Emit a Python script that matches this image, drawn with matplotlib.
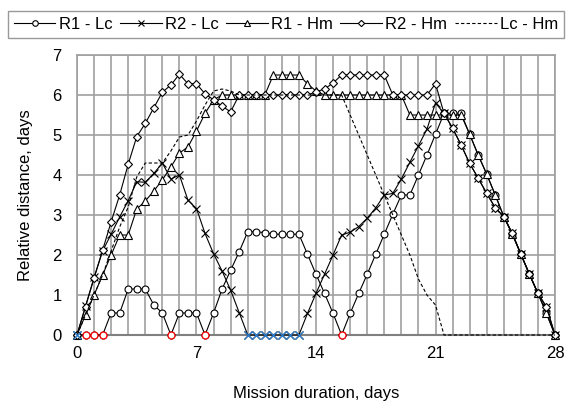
import numpy as np
import matplotlib
matplotlib.use("Agg")
import matplotlib.pyplot as plt
from matplotlib.ticker import MultipleLocator

plt.rcParams["font.family"] = ["Liberation Sans", "DejaVu Sans"]

# half-day sampling over the 28 day mission
days = np.arange(0, 28.5, 0.5)

r1_lc = [0, 0, 0, 0, 0.55, 0.55, 1.15, 1.15, 1.15, 0.75, 0.55, 0, 0.55, 0.55, 0.55,
         0, 0.55, 1.15, 1.62, 2.08, 2.58, 2.58, 2.56, 2.52, 2.52, 2.52, 2.52, 2.02,
         1.52, 1.04, 0.54, 0, 0.54, 1.04, 1.52, 2.02, 2.52, 3.02, 3.5, 3.5, 4.0, 4.5,
         5.02, 5.54, 5.54, 5.54, 5.02, 4.5, 4.02, 3.5, 2.96, 2.52, 2.02, 1.52, 1.04,
         0.54, 0]

r2_lc = [0, 0.72, 1.44, 2.1, 2.52, 2.95, 3.36, 3.83, 3.82, 4.04, 4.3, 3.9, 4.0, 3.37,
         3.16, 2.54, 2.03, 1.6, 1.12, 0.56, 0, 0, 0, 0, 0, 0, 0, 0.54, 1.04, 1.52,
         2.0, 2.5, 2.57, 2.71, 2.92, 3.18, 3.5, 3.54, 3.9, 4.32, 4.73, 5.15, 5.8,
         5.54, 5.17, 4.75, 4.29, 3.92, 3.54, 3.18, 2.96, 2.54, 2.02, 1.52, 1.04,
         0.7, 0]

r1_hm = [0, 0.5, 1.0, 1.5, 2.0, 2.5, 2.5, 3.15, 3.35, 3.6, 3.88, 4.2, 4.55, 4.7, 5.1,
         5.54, 5.88, 6.0, 6.0, 6.0, 6.0, 6.0, 6.0, 6.5, 6.5, 6.5, 6.5, 6.28, 6.1,
         6.0, 6.0, 6.0, 6.0, 6.0, 6.0, 6.0, 6.0, 6.0, 6.0, 5.5, 5.5, 5.5, 5.5, 5.5,
         5.5, 5.5, 5.02, 4.5, 4.02, 3.5, 2.96, 2.52, 2.02, 1.52, 1.04, 0.54, 0]

r2_hm = [0, 0.71, 1.42, 2.12, 2.83, 3.5, 4.27, 4.96, 5.29, 5.68, 6.07, 6.25, 6.52,
         6.28, 6.28, 6.03, 5.88, 5.72, 5.58, 6.0, 6.0, 6.0, 6.0, 6.0, 6.0, 6.0, 6.0,
         6.0, 6.08, 6.15, 6.3, 6.5, 6.5, 6.5, 6.5, 6.5, 6.5, 6.0, 6.0, 6.0, 6.0,
         6.0, 6.28, 5.54, 5.17, 4.75, 4.29, 3.92, 3.54, 3.18, 2.96, 2.54, 2.02,
         1.52, 1.04, 0.7, 0]

lc_hm = [0, 0.5, 1.0, 1.5, 2.1, 2.7, 3.2, 3.95, 4.3, 4.3, 4.3, 4.6, 4.95, 5.0, 5.35,
         5.75, 6.1, 6.15, 6.1, 6.0, 6.0, 6.0, 6.0, 6.0, 6.0, 6.0, 6.0, 6.0, 6.0,
         6.0, 6.0, 6.0, 5.5, 5.0, 4.5, 4.0, 3.5, 3.0, 2.5, 2.0, 1.4, 1.0, 0.75, 0,
         0, 0, 0, 0, 0, 0, 0, 0, 0, 0, 0, 0, 0]

x_ticks = [0, 7, 14, 21, 28]

r1_lc = np.array(r1_lc)
r2_lc = np.array(r2_lc)

fig = plt.figure(figsize=(5.72, 4.09), dpi=100)
ax = fig.add_axes([0.1346, 0.1809, 0.8357, 0.6846])

mk = dict(color="black", linewidth=0.8, markersize=5, markeredgewidth=0.8,
          markerfacecolor="white", clip_on=False)
ax.plot(days, r1_lc, marker="o", label="R1 - Lc", zorder=3, **mk)
ax.plot(days, r2_lc, marker="x", label="R2 - Lc", zorder=4,
        **{**mk, "markersize": 6})
ax.plot(days, r1_hm, marker="^", label="R1 - Hm", zorder=5,
        **{**mk, "markersize": 5.5})
ax.plot(days, r2_hm, marker="D", label="R2 - Hm", zorder=6,
        **{**mk, "markersize": 4})
ax.plot(days, lc_hm, color="black", linewidth=0.8, linestyle=(0, (3, 2)),
        label="Lc - Hm", zorder=7, clip_on=False)

# zero-distance points are flagged in colour
red_pts = (r1_lc == 0) & (days > 0) & (days < 28)
blue_pts = (r2_lc == 0) & (days < 28)
ax.plot(days[red_pts], r1_lc[red_pts], "o", markersize=5, markeredgewidth=0.9,
        markerfacecolor="white", markeredgecolor="red", zorder=9, clip_on=False)
ax.plot(days[blue_pts], r2_lc[blue_pts], "x", markersize=6, markeredgewidth=0.9,
        color="#2b7fd0", zorder=9, clip_on=False)

ax.set_xlim(0, 28)
ax.set_ylim(0, 7)
ax.set_xticks(x_ticks)
ax.xaxis.set_minor_locator(MultipleLocator(1))
ax.yaxis.set_major_locator(MultipleLocator(1))
ax.grid(which="both", axis="x", color="#a0a0a0", linewidth=1.2)
ax.grid(which="major", axis="y", color="#a0a0a0", linewidth=1.2)
ax.set_axisbelow(True)
ax.tick_params(which="both", length=0, labelsize=12)
ax.tick_params(axis="x", pad=8)
ax.tick_params(axis="y", pad=11)
for side in ["top", "right", "left"]:
    ax.spines[side].set_color("#a0a0a0")
    ax.spines[side].set_linewidth(1.2)
ax.spines["bottom"].set_color("#808080")
ax.spines["bottom"].set_linewidth(1.5)

ax.set_xlabel("Mission duration, days", fontsize=12, labelpad=18)
ax.set_ylabel("Relative distance, days", fontsize=12, labelpad=14)

leg = fig.legend(loc="upper center", bbox_to_anchor=(0.5, 0.993), ncol=5,
                 fontsize=12, frameon=True, fancybox=False, handlelength=2.5,
                 handletextpad=0.2, columnspacing=0.45, borderpad=0.35,
                 markerscale=0.8)
leg.get_frame().set_edgecolor("#808080")
leg.get_frame().set_linewidth(1.0)

fig.savefig("out.png", dpi=100)
